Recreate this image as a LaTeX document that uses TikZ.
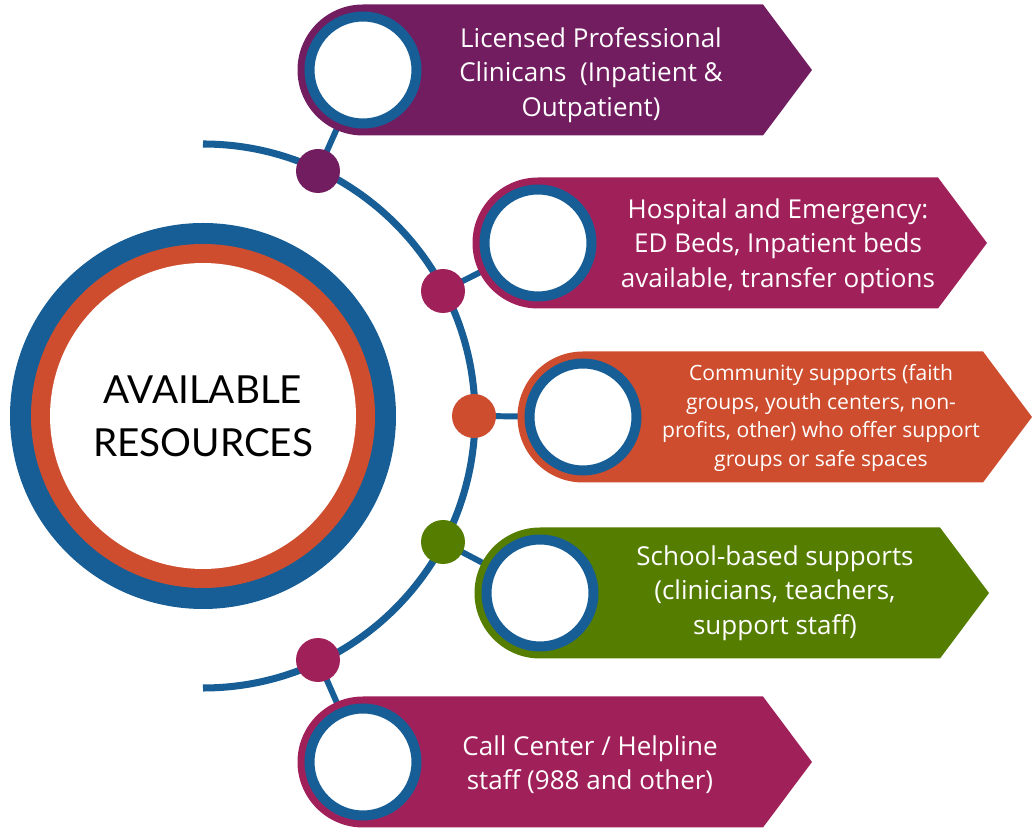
\documentclass[tikz,border=0pt]{standalone}
\usepackage{fontspec}
\setmainfont{Open Sans}
\newfontfamily\titlefont{Lato}
\usepackage{tikz}

\definecolor{ringblue}{HTML}{175E96}
\definecolor{plum}{HTML}{711D60}
\definecolor{berry}{HTML}{A0205A}
\definecolor{rust}{HTML}{CD4D2E}
\definecolor{leaf}{HTML}{557D00}

\pgfdeclarelayer{back}
\pgfsetlayers{back,main}

\tikzset{
  hub/.style={circle, fill=#1, minimum size=0.88cm, inner sep=0pt},
  ring/.style={circle, draw=ringblue, line width=5.7pt, fill=white, minimum size=2.14cm, inner sep=0pt},
  link/.style={ringblue, line width=3.4pt},
  lbl/.style={text=white, align=center, font=\fontsize{14.8}{19.5}\selectfont},
  lblsmall/.style={text=white, align=center, font=\fontsize{12}{16.4}\selectfont}
}

\begin{document}
\begin{tikzpicture}[x=0.02cm, y=-0.02cm]
\useasboundingbox (0,0) rectangle (1036,830);

% centre
\fill[ringblue] (203,416) circle[radius=193];
\fill[rust] (203,416) circle[radius=172];
\node[circle, fill=white, minimum size=6.12cm, align=center, font=\titlefont\fontsize{22}{30}\selectfont] (core) at (203,416) {AVAILABLE\\RESOURCES};

\begin{pgfonlayer}{back}
\draw[ringblue, line width=4pt] (core.center) ++(-90:272) arc[start angle=-90, end angle=90, radius=272];
\end{pgfonlayer}

\foreach \i/\dx/\dy/\px/\py/\ty/\col/\tx/\lst/\txt in {
  1/318/171/297/70/75/plum/591/lbl/{Licensed Professional\\Clinicans\ \ (Inpatient \&\\Outpatient)},
  2/443/291/472/243/246/berry/778/lbl/{Hospital and Emergency:\\ED Beds, Inpatient beds\\available, transfer options},
  3/474/416/517/417/418/rust/821/lblsmall/{Community supports (faith\\groups, youth centers, non-\\profits, other) who offer support\\groups or safe spaces},
  4/443/542/474/593/593/leaf/775/lbl/{School-based supports\\(clinicians, teachers,\\support staff)},
  5/318/660/297/762/765/berry/590/lbl/{Call Center / Helpline\\staff (988 and other)}} {
    \fill[\col] (\px+66,\py-65.5) -- (\px+466,\py-65.5) -- (\px+515,\py) -- (\px+466,\py+65.5) -- (\px+66,\py+65.5) arc[start angle=90, end angle=270, radius=65.5] -- cycle;
    \node[ring] (c\i) at (\px+66,\py) {};
    \node[\lst] (t\i) at (\tx,\ty) {\txt};
    \node[hub=\col] (d\i) at (\dx,\dy) {};
    \begin{pgfonlayer}{back}
    \draw[link] (d\i.center) -- (c\i.center);
    \end{pgfonlayer}
}
\end{tikzpicture}
\end{document}
